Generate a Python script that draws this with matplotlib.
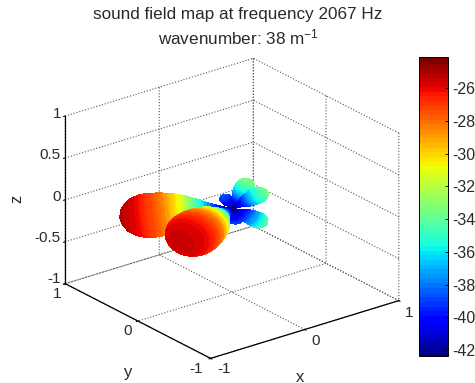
import numpy as np
import matplotlib
matplotlib.use("Agg")
import matplotlib.pyplot as plt
from matplotlib.cm import ScalarMappable
from matplotlib.colors import Normalize

plt.rcParams['font.family'] = ['Liberation Sans', 'DejaVu Sans']
plt.rcParams['mathtext.fontset'] = 'custom'
plt.rcParams['mathtext.rm'] = 'Liberation Sans'
plt.rcParams['mathtext.default'] = 'regular'

# lobes of the balloon: tip position in x, y, z and widest half width, back to front
lobe_names = ['back', 'bottom', 'right low', 'top', 'right up', 'far main', 'near main']
lobe_x = [-0.05, 0.04, 0.23, 0.12, 0.23, -0.73, -0.83]
lobe_y = [0.06, -0.03, -0.18, -0.08, -0.18, 0.60, -0.35]
lobe_z = [0.15, -0.17, -0.19, 0.34, 0.21, -0.13, 0.03]
lobe_w = [0.05, 0.07, 0.08, 0.08, 0.08, 0.23, 0.235]

# lobe outline: distance along the lobe axis against half width (both relative)
profile_t = [0, 0.05, 0.1, 0.2, 0.3, 0.4, 0.5, 0.6, 0.7, 0.8, 0.88, 0.94, 0.98, 1.0]
profile_w = [0, 0.07, 0.15, 0.33, 0.55, 0.75, 0.88, 0.96, 1.0, 0.97, 0.84, 0.63, 0.36, 0]

# level in dB at a given distance from the origin
radius_vals = [0.0, 0.05, 0.15, 0.25, 0.35, 0.45, 0.6, 0.8, 1.0, 1.1]
level_vals = [-42.3, -41.5, -39, -36, -33.5, -31, -28.3, -26, -24.6, -24.1]

level_min, level_max = -42.35, -24.1
cbar_ticks = [-42, -40, -38, -36, -34, -32, -30, -28, -26]
xyz_ticks = [-1, 0, 1]
z_ticks = [-1, -0.5, 0, 0.5, 1]
text_col = '#2a2a2a'

cmap = plt.get_cmap('jet', 64)
norm = Normalize(level_min, level_max)


def lobe_surface(tip, width):
    tip = np.array(tip)
    length = np.linalg.norm(tip)
    axis = tip / length
    side1 = np.cross(axis, [0.3, 0.5, 0.8])
    side1 = side1 / np.linalg.norm(side1)
    side2 = np.cross(axis, side1)
    t = np.interp(np.linspace(0, 13, 105), np.arange(14), profile_t)
    ang = np.linspace(0, 2 * np.pi, 61)
    tt, aa = np.meshgrid(t, ang)
    ww = np.interp(tt, profile_t, profile_w) * width
    pts = []
    for i in range(3):
        pts.append(axis[i] * tt * length + side1[i] * ww * np.cos(aa) + side2[i] * ww * np.sin(aa))
    return pts


# text placed in picture pixels
def px_text(x, y, s, **kw):
    kw.setdefault('ha', 'center')
    fig.text(x / 475, 1 - y / 383, s, va='center', color=text_col, **kw)


fig = plt.figure(figsize=(4.75, 3.83), dpi=100)
ax = fig.add_axes([-0.0225, -0.0575, 1.0, 1.0], projection='3d', proj_type='ortho')
ax.computed_zorder = False
ax.view_init(elev=23.4, azim=-127.7)
ax.set_box_aspect((1, 1, 0.768), zoom=0.97)
ax.set_xlim(-1, 1)
ax.set_ylim(-1, 1)
ax.set_zlim(-1, 1)
ax.set_xticks(xyz_ticks)
ax.set_yticks(xyz_ticks)
ax.set_zticks(z_ticks)
ax.set_xticklabels([])
ax.set_yticklabels([])
ax.set_zticklabels([])

for axis in (ax.xaxis, ax.yaxis, ax.zaxis):
    axis.set_pane_color((1, 1, 1, 0))
    axis.pane.set_edgecolor((1, 1, 1, 0))
    axis._axinfo['grid'].update(color='#555555', linestyle=':', linewidth=0.8)
    axis._axinfo['tick'].update(inward_factor=0.1, outward_factor=0.0)
    axis.line.set_color('black')
    axis.line.set_linewidth(0.9)

for i in range(len(lobe_names)):
    X, Y, Z = lobe_surface((lobe_x[i], lobe_y[i], lobe_z[i]), lobe_w[i])
    R = np.sqrt(X**2 + Y**2 + Z**2)
    level = np.interp(R, radius_vals, level_vals)
    ax.plot_surface(X, Y, Z, facecolors=cmap(norm(level)), rstride=1, cstride=1,
                    shade=False, linewidth=0, antialiased=False, zorder=5 + i)

px_text(238, 14, 'sound field map at frequency 2067 Hz', fontsize=12.3)
px_text(238, 37, 'wavenumber: 38 m$^{-1}$', fontsize=12.3)

for s, y in zip(['1', '0.5', '0', '-0.5', '-1'], [114, 155, 197, 238, 279]):
    px_text(61, y, s, ha='right', fontsize=11)
for s, x, y in zip(['1', '0', '-1'], [57, 128, 196], [294, 331, 369]):
    px_text(x, y, s, fontsize=11)
for s, x, y in zip(['-1', '0', '1'], [224, 316, 409], [369, 341, 313]):
    px_text(x, y, s, fontsize=11)
px_text(300, 377, 'x', fontsize=12)
px_text(128, 373, 'y', fontsize=12)
px_text(17, 199, 'z', fontsize=12, rotation=90)

cax = fig.add_axes([419 / 475, 1 - 356 / 383, 29 / 475, 299 / 383])
cb = fig.colorbar(ScalarMappable(norm=norm, cmap=cmap), cax=cax)
cb.set_ticks(cbar_ticks)
cb.set_ticklabels([str(t) for t in cbar_ticks])
cb.ax.tick_params(labelsize=11.5, labelcolor=text_col, length=2.5, width=0.6, direction='in', pad=3)
cb.outline.set_linewidth(0.7)
cb.solids.set_edgecolor('face')

fig.savefig('out.png', dpi=100)
